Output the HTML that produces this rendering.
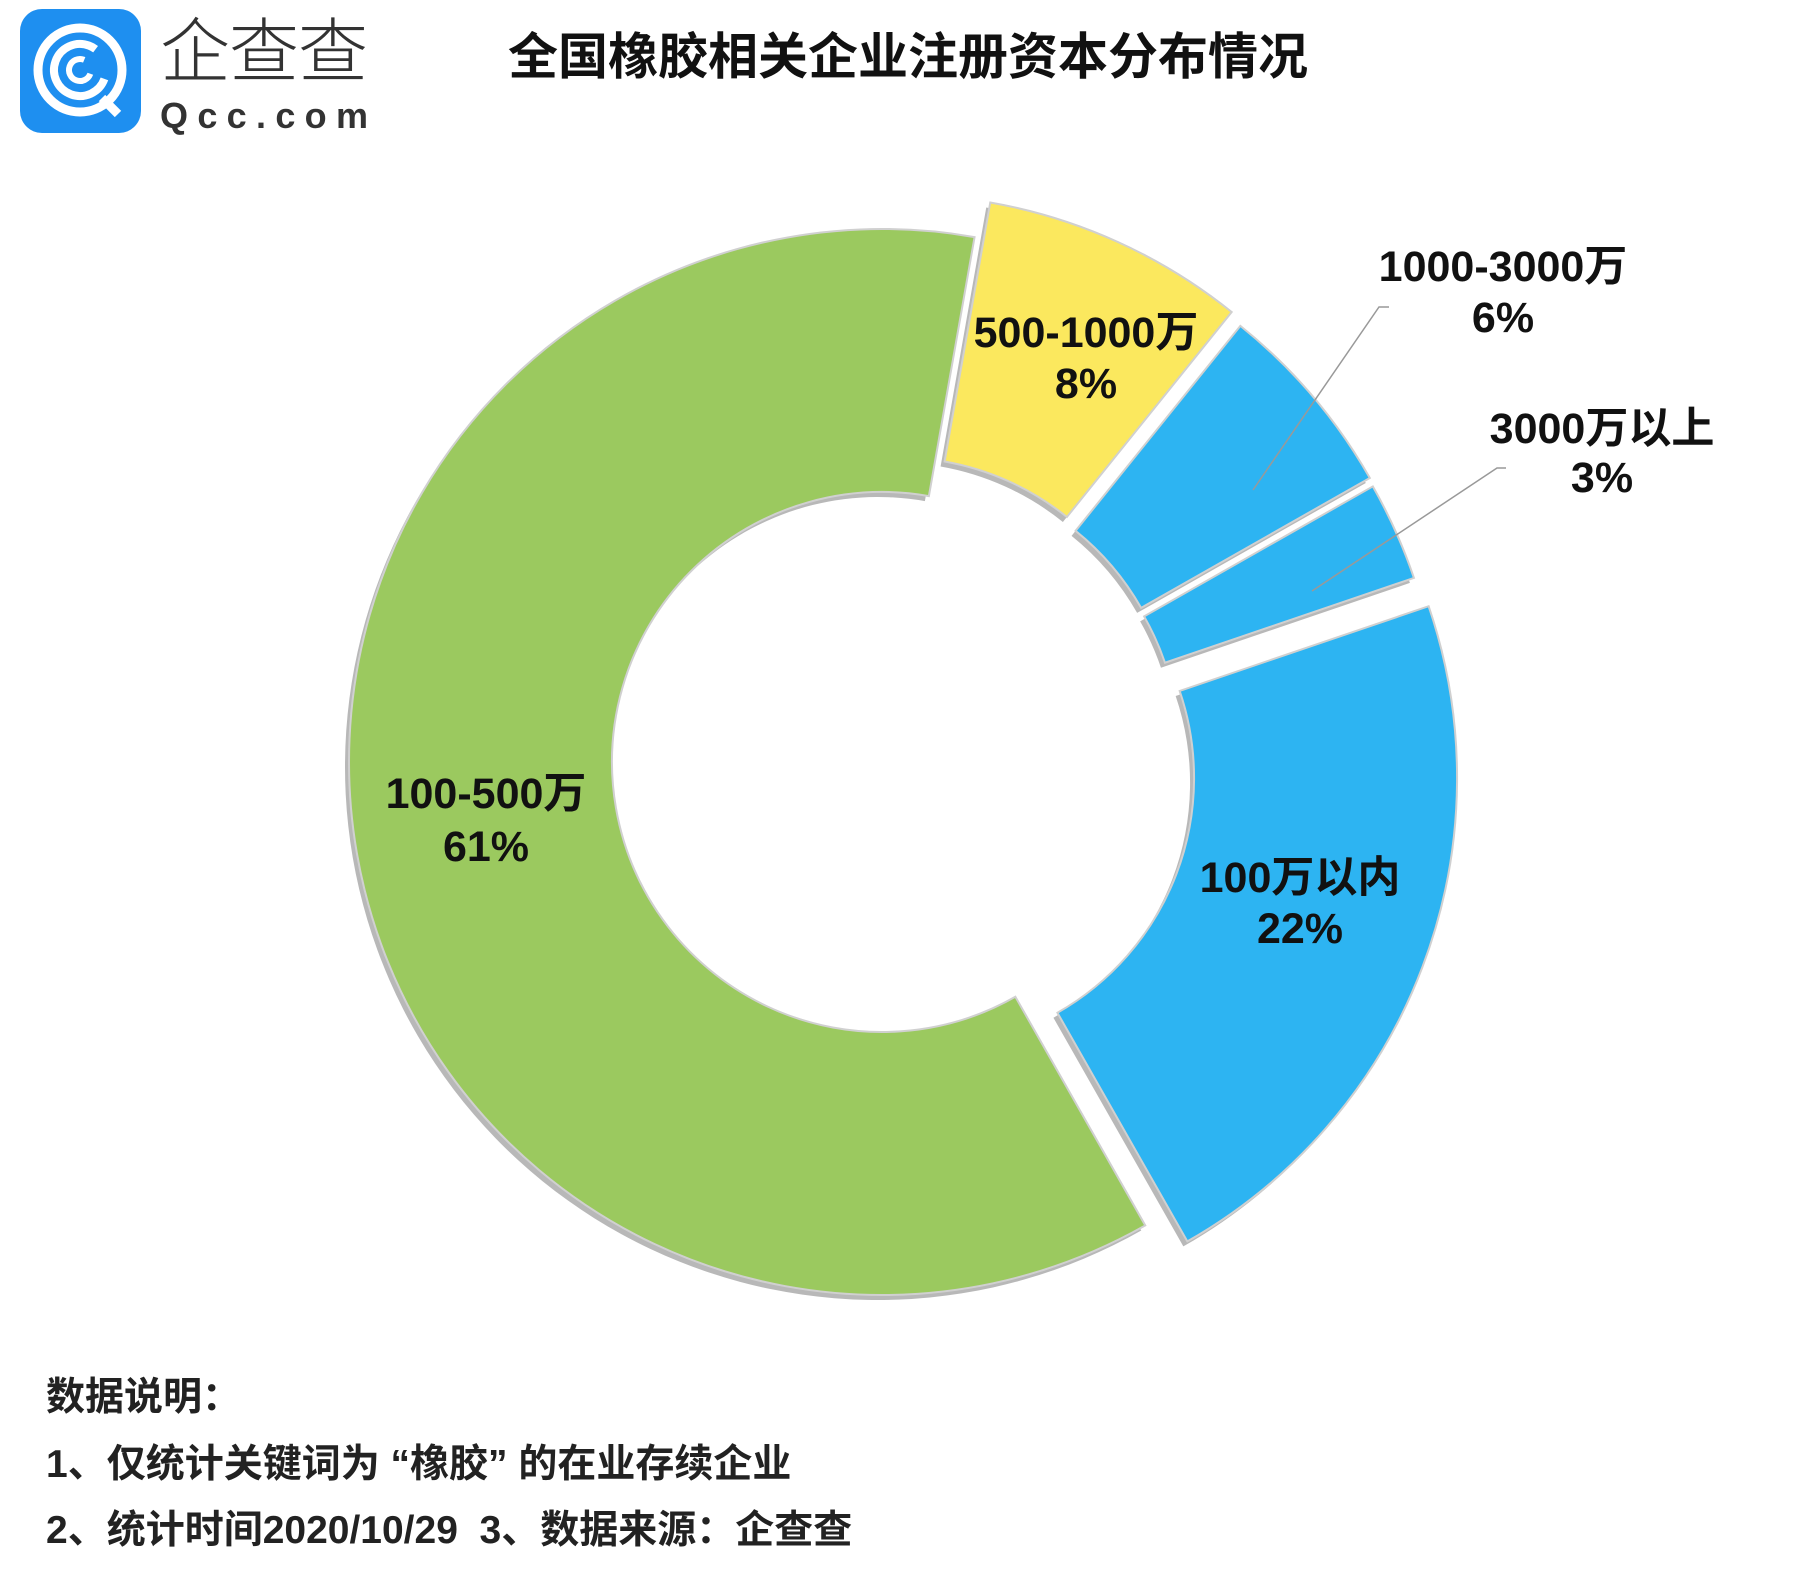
<!DOCTYPE html>
<html><head><meta charset="utf-8"><style>
html,body{margin:0;padding:0;background:#fff;}
svg{display:block;font-family:"Liberation Sans","Noto Sans CJK SC",sans-serif;}
</style></head><body>
<svg id="chart" width="1819" height="1581" viewBox="0 0 1819 1581" xmlns="http://www.w3.org/2000/svg">
<g>
<rect x="20" y="9" width="121" height="124" rx="22" fill="#1e8ff0"/>
<circle cx="80" cy="70" r="42" fill="none" stroke="#fff" stroke-width="9"/>
<circle cx="80" cy="70" r="26" fill="none" stroke="#fff" stroke-width="8" stroke-dasharray="130 40" transform="rotate(20 80 70)"/>
<circle cx="80" cy="70" r="11" fill="none" stroke="#fff" stroke-width="6" stroke-dasharray="52 18" transform="rotate(20 80 70)"/>
<line x1="102" y1="98" x2="118" y2="114" stroke="#fff" stroke-width="9"/>
<text x="160" y="76" font-size="70" fill="#333" font-weight="300" textLength="208">企查查</text>
<text x="160" y="128" font-size="36" fill="#333" font-weight="bold" textLength="208">Qcc.com</text>
</g>
<text x="908" y="74" font-size="50" font-weight="bold" text-anchor="middle" fill="#111">全国橡胶相关企业注册资本分布情况</text>
<g id="slices"></g>
<g id="labels"></g>
<g font-size="39" font-weight="bold" fill="#222">
<text x="46" y="1410">数据说明：</text>
<text x="46" y="1477">1、仅统计关键词为 “橡胶” 的在业存续企业</text>
<text x="46" y="1543" xml:space="preserve">2、统计时间2020/10/29  3、数据来源：企查查</text>
</g>
</svg>
<script>
const categories = ["500-1000万","1000-3000万","3000万以上","100万以内","100-500万"];
const values = [8,6,3,22,61];
const labelTexts = ["8%","6%","3%","22%","61%"];
const colors = ["#fbe85e","#2db4f2","#2db4f2","#2db4f2","#9bc95f"];
const explode = [38,32,30,45,0];
const NS="http://www.w3.org/2000/svg";
const cx=882, cy=762, R=533, r=270, startDeg=10;
const total=values.reduce((a,b)=>a+b,0);
function pt(deg,rad,ox,oy){const a=(deg-90)*Math.PI/180;return [cx+ox+rad*Math.cos(a), cy+oy+rad*Math.sin(a)];}
const gs=document.getElementById('slices'), gl=document.getElementById('labels');
let acc=startDeg;
const labelPos=[[1086,347,398],[1503,281,332],[1602,443,492],[1300,892,943],[486,808,861]];
values.forEach((v,i)=>{
  const a0=acc, a1=acc+v/total*360; acc=a1;
  const mid=(a0+a1)/2, m=(mid-90)*Math.PI/180;
  const ox=explode[i]*Math.cos(m), oy=explode[i]*Math.sin(m);
  const p0=pt(a0,R,ox,oy),p1=pt(a1,R,ox,oy),q1=pt(a1,r,ox,oy),q0=pt(a0,r,ox,oy);
  const large=(a1-a0)>180?1:0;
  const d=`M${p0[0]},${p0[1]} A${R},${R} 0 ${large} 1 ${p1[0]},${p1[1]} L${q1[0]},${q1[1]} A${r},${r} 0 ${large} 0 ${q0[0]},${q0[1]} Z`;
  const sh=document.createElementNS(NS,'path');
  sh.setAttribute('d',d);sh.setAttribute('fill','#888');sh.setAttribute('opacity','0.6');
  sh.setAttribute('transform','translate(-4,5)');
  
  
  gs.appendChild(sh);
  const p=document.createElementNS(NS,'path');
  p.setAttribute('d',d);p.setAttribute('fill',colors[i]);p.setAttribute('stroke','#d0d0d0');p.setAttribute('stroke-width','2');
  
  
  gs.appendChild(p);
  const lp=labelPos[i];
  [categories[i],labelTexts[i]].forEach((t,k)=>{
    const tx=document.createElementNS(NS,'text');
    tx.setAttribute('x',lp[0]);tx.setAttribute('y',k?lp[2]:lp[1]);
    tx.setAttribute('font-size','43');tx.setAttribute('font-weight','bold');tx.setAttribute('text-anchor','middle');tx.setAttribute('fill','#111');
    tx.textContent=t;
    
    
    gl.appendChild(tx);
  });
});
[[[1389,307],[1379,307],[1253,490]],[[1506,468],[1497,468],[1312,591]]].forEach(ps=>{
  const pl=document.createElementNS(NS,'polyline');
  pl.setAttribute('points',ps.map(p=>p.join(',')).join(' '));
  pl.setAttribute('fill','none');pl.setAttribute('stroke','#999');pl.setAttribute('stroke-width','1.5');
  
  
  gl.appendChild(pl);
});
</script>
</body></html>
